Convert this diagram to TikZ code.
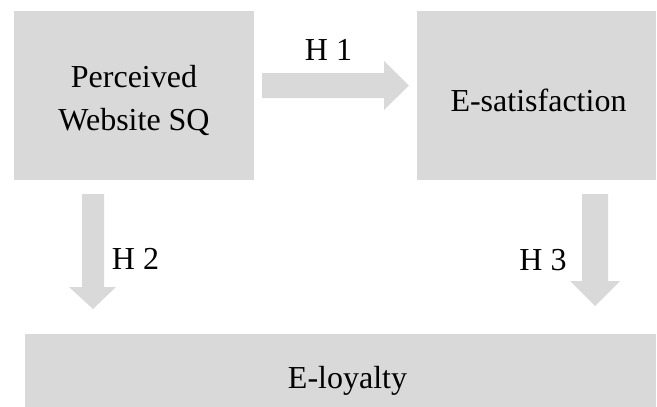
\documentclass[tikz,border=0pt]{standalone}
\usepackage{fontspec}
\setmainfont{Liberation Serif}
\definecolor{boxgray}{HTML}{D9D9D9}
\begin{document}
\begin{tikzpicture}[x=1pt,y=-1pt,
  box/.style={fill=boxgray,draw=none,inner sep=0pt},
  blockarrow/.style={fill=boxgray,draw=none},
  lbl/.style={anchor=base,inner sep=0pt,font=\fontsize{32}{42}\selectfont}]
\useasboundingbox (0,0) rectangle (657,407);
% boxes
\node[box,minimum width=240pt,minimum height=169pt] (psq) at (134,95.5) {};
\node[box,minimum width=239pt,minimum height=169pt] (esat) at (536.5,95.5) {};
\node[box,minimum width=631pt,minimum height=73pt] (eloy) at (340.5,370.5) {};
% texts
\node[lbl] (t1) at (134,87.3) {Perceived};
\node[lbl] (t2) at (134,130) {Website SQ};
\node[lbl] (t3) at (538.5,111.7) {E-satisfaction};
\node[lbl] (t4) at (347.5,388.3) {E-loyalty};
% block arrows
\fill[blockarrow] (262,73) -- (384,73) -- (384,61) -- (409,85.5) -- (384,110) -- (384,98) -- (262,98) -- cycle;
\fill[blockarrow] (82,194) -- (104,194) -- (104,287) -- (116,287) -- (93,309) -- (69,287) -- (82,287) -- cycle;
\fill[blockarrow] (582,194) -- (608,194) -- (608,281) -- (620,281) -- (595,306) -- (570,281) -- (582,281) -- cycle;
% arrow labels
\node[lbl] (h1) at (328.5,60) {H 1};
\node[lbl] (h2) at (135.5,269) {H 2};
\node[lbl] (h3) at (543,270) {H 3};
\end{tikzpicture}
\end{document}
